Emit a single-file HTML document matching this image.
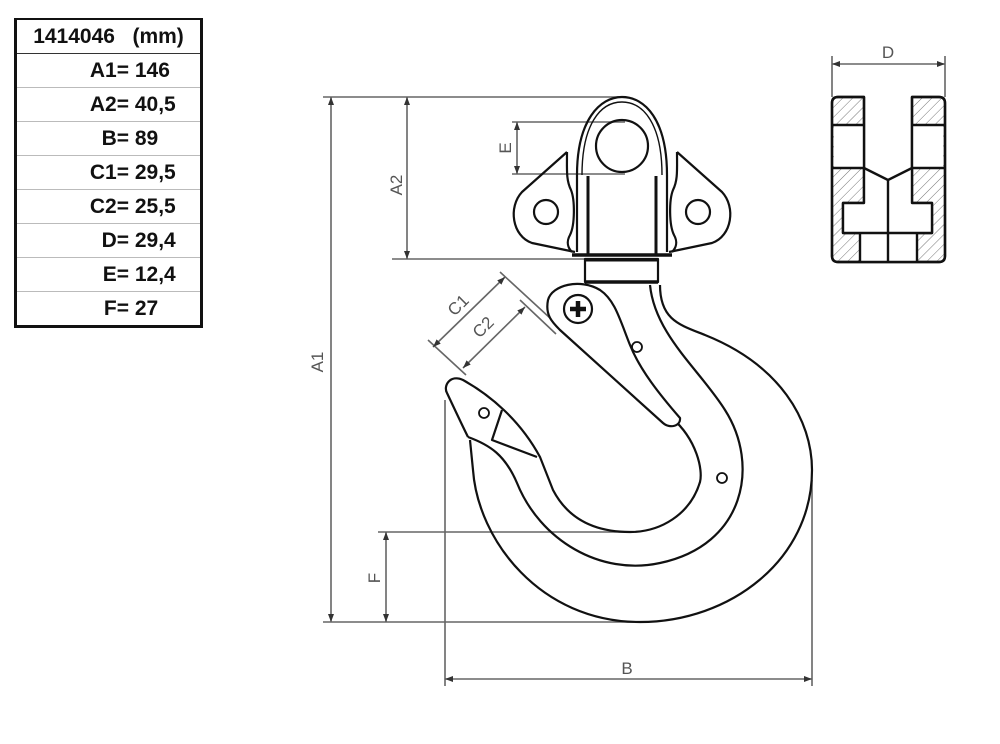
<!DOCTYPE html>
<html><head><meta charset="utf-8"><style>
html,body{margin:0;padding:0;background:#fff;}
body{width:1000px;height:744px;position:relative;overflow:hidden;font-family:"Liberation Sans",sans-serif;}
table{position:absolute;left:14px;top:18px;border-collapse:collapse;width:189px;border-left:3px solid #111;border-right:3px solid #111;border-top:2px solid #111;border-bottom:3px solid #111;}
td{height:33px;padding:0;font-weight:bold;font-size:21px;color:#111;border-bottom:1px solid #bbb;white-space:nowrap;}
td.h{height:33px;text-align:center;border-bottom:1.5px solid #333;font-size:21px;}
td .l{display:inline-block;width:112px;text-align:right;}
</style></head><body>
<table>
<tr><td class="h">1414046&nbsp;&nbsp;&nbsp;(mm)</td></tr>
<tr><td><span class="l">A1=</span> 146</td></tr>
<tr><td><span class="l">A2=</span> 40,5</td></tr>
<tr><td><span class="l">B=</span> 89</td></tr>
<tr><td><span class="l">C1=</span> 29,5</td></tr>
<tr><td><span class="l">C2=</span> 25,5</td></tr>
<tr><td><span class="l">D=</span> 29,4</td></tr>
<tr><td><span class="l">E=</span> 12,4</td></tr>
<tr><td style="border-bottom:none"><span class="l">F=</span> 27</td></tr>
</table>
<svg width="1000" height="744" style="position:absolute;left:0;top:0" xmlns="http://www.w3.org/2000/svg">
<defs>
<marker id="a" markerWidth="8" markerHeight="6" refX="8" refY="3" orient="auto" markerUnits="userSpaceOnUse"><path d="M0,0 L8,3 L0,6 Z" fill="#333"/></marker>
<marker id="b" markerWidth="8" markerHeight="6" refX="0" refY="3" orient="auto" markerUnits="userSpaceOnUse"><path d="M8,0 L0,3 L8,6 Z" fill="#333"/></marker>
<pattern id="h" width="7" height="7" patternUnits="userSpaceOnUse" patternTransform="rotate(45)"><line x1="0" y1="0" x2="0" y2="7" stroke="#777" stroke-width="1"/></pattern>
</defs>
<g stroke="#666" stroke-width="1.6" fill="none">
<line x1="323" y1="97" x2="625" y2="97"/>
<line x1="392" y1="259" x2="585" y2="259"/>
<line x1="331" y1="97" x2="331" y2="622" marker-start="url(#b)" marker-end="url(#a)"/>
<line x1="407" y1="97" x2="407" y2="259" marker-start="url(#b)" marker-end="url(#a)"/>
<line x1="512" y1="122" x2="625" y2="122"/>
<line x1="512" y1="174" x2="625" y2="174"/>
<line x1="517" y1="122" x2="517" y2="174" marker-start="url(#b)" marker-end="url(#a)"/>
<line x1="378" y1="532" x2="630" y2="532"/>
<line x1="323" y1="622" x2="640" y2="622"/>
<line x1="386" y1="532" x2="386" y2="622" marker-start="url(#b)" marker-end="url(#a)"/>
<line x1="445" y1="400" x2="445" y2="686"/>
<line x1="812" y1="480" x2="812" y2="686"/>
<line x1="445" y1="679" x2="812" y2="679" marker-start="url(#b)" marker-end="url(#a)"/>
<line x1="832" y1="56" x2="832" y2="97"/>
<line x1="945" y1="56" x2="945" y2="97"/>
<line x1="832" y1="64" x2="945" y2="64" marker-start="url(#b)" marker-end="url(#a)"/>
<line x1="428" y1="340" x2="466" y2="375"/>
<line x1="500" y1="272" x2="550" y2="318"/>
<line x1="520" y1="300" x2="556" y2="334"/>
<line x1="433" y1="347" x2="505" y2="277" marker-start="url(#b)" marker-end="url(#a)"/>
<line x1="463" y1="368" x2="525" y2="307" marker-start="url(#b)" marker-end="url(#a)"/>
</g>
<g fill="#555" font-family="Liberation Sans, sans-serif" font-size="17">
<text x="317" y="368" transform="rotate(-90 317 362)" text-anchor="middle">A1</text>
<text x="396" y="191" transform="rotate(-90 396 185)" text-anchor="middle">A2</text>
<text x="505" y="154" transform="rotate(-90 505 148)" text-anchor="middle">E</text>
<text x="374" y="584" transform="rotate(-90 374 578)" text-anchor="middle">F</text>
<text x="627" y="674" text-anchor="middle">B</text>
<text x="888" y="58" text-anchor="middle">D</text>
<text x="458" y="311" transform="rotate(-45 458 305)" text-anchor="middle">C1</text>
<text x="483" y="333" transform="rotate(-45 483 327)" text-anchor="middle">C2</text>
</g>
<g stroke="#111" stroke-width="2.2" fill="none" stroke-linejoin="round">
<path d="M577 252 L577 175 C577 120 600 97 622 97 C645 97 667 120 667 175 L667 252"/>
<path d="M582 175 C582 125 600 102 622 102 C644 102 662 125 662 175" stroke-width="1.4"/>
<circle cx="622" cy="146" r="26"/>
<line x1="588" y1="176" x2="588" y2="256" stroke-width="3"/>
<line x1="656" y1="176" x2="656" y2="256" stroke-width="3"/>
<path d="M567 152 L522 192 C508 207 512 236 532 243 L575 252"/>
<path d="M677 152 L722 192 C736 207 732 236 712 243 L669 252"/>
<path d="M567 152 C567 170 566 180 571 190 C575 200 575 225 570 235 C566 242 568 248 572 252"/>
<path d="M677 152 C677 170 678 180 673 190 C669 200 669 225 674 235 C678 242 676 248 672 252"/>
<circle cx="546" cy="212" r="12"/>
<circle cx="698" cy="212" r="12"/>
<line x1="572" y1="255" x2="672" y2="255" stroke-width="3.5"/>
<rect x="585" y="259" width="73" height="23"/>
<line x1="585" y1="282" x2="658" y2="282" stroke-width="3.5"/>
<line x1="585" y1="260" x2="658" y2="260" stroke-width="3"/>
<path d="M660 285 C660 320 680 325 705 335 C780 365 812 420 812 470 C812 560 730 622 640 622 C540 622 478 540 473 470 L470 440"/>
<path d="M650 285 C655 335 700 370 725 410 C760 465 745 545 660 563 C600 576 540 540 517 483 C505 455 490 445 468 437"/>
<path d="M672 418 C697 440 703 470 700 482 C690 515 660 532 630 532 C590 532 566 515 553 490 L540 457 C520 420 490 395 463 380 C450 374 443 386 447 393 C455 410 462 425 468 437"/>
<path d="M502 410 L492 440 L537 457" />
<path d="M548 300 C545 315 552 322 560 330 L663 423 C670 429 681 426 680 418 C660 395 640 370 630 345 C620 320 615 300 600 290 C580 278 552 285 548 300 Z" fill="#fff"/>
<circle cx="578" cy="309" r="14" fill="#fff"/>
<path d="M570 309 H586 M578 301 V317" stroke-width="4.5"/>
<circle cx="637" cy="347" r="5" stroke-width="1.8"/>
<circle cx="722" cy="478" r="5" stroke-width="1.8"/>
<circle cx="484" cy="413" r="5" stroke-width="1.8"/>
</g>
<g stroke="#111" stroke-width="2.4" fill="none" stroke-linejoin="round">
<path d="M832 103 Q832 97 838 97 L864 97 L864 203 L843 203 L843 233 L932 233 L932 203 L912 203 L912 97 L939 97 Q945 97 945 103 L945 256 Q945 262 939 262 L838 262 Q832 262 832 256 Z" fill="url(#h)"/>
<rect x="834" y="125" width="29" height="43" fill="#fff" stroke="none"/>
<rect x="913" y="125" width="30" height="43" fill="#fff" stroke="none"/>
<path d="M864 168 L888 178 L912 168 L912 203 L932 203 L932 233 L917 233 L917 262 L860 262 L860 233 L843 233 L843 203 L864 203 Z" fill="#fff" stroke="none"/>
<path d="M832 103 Q832 97 838 97 L864 97 L864 203 L843 203 L843 233 L932 233 L932 203 L912 203 L912 97 L939 97 Q945 97 945 103 L945 256 Q945 262 939 262 L838 262 Q832 262 832 256 Z"/>
<line x1="832" y1="125" x2="864" y2="125"/>
<line x1="832" y1="168" x2="864" y2="168"/>
<line x1="912" y1="125" x2="945" y2="125"/>
<line x1="912" y1="168" x2="945" y2="168"/>
<path d="M864 168 L888 180 L912 168"/>
<line x1="888" y1="180" x2="888" y2="262"/>
<line x1="860" y1="233" x2="860" y2="262"/>
<line x1="917" y1="233" x2="917" y2="262"/>
</g>
</svg>
</body></html>
